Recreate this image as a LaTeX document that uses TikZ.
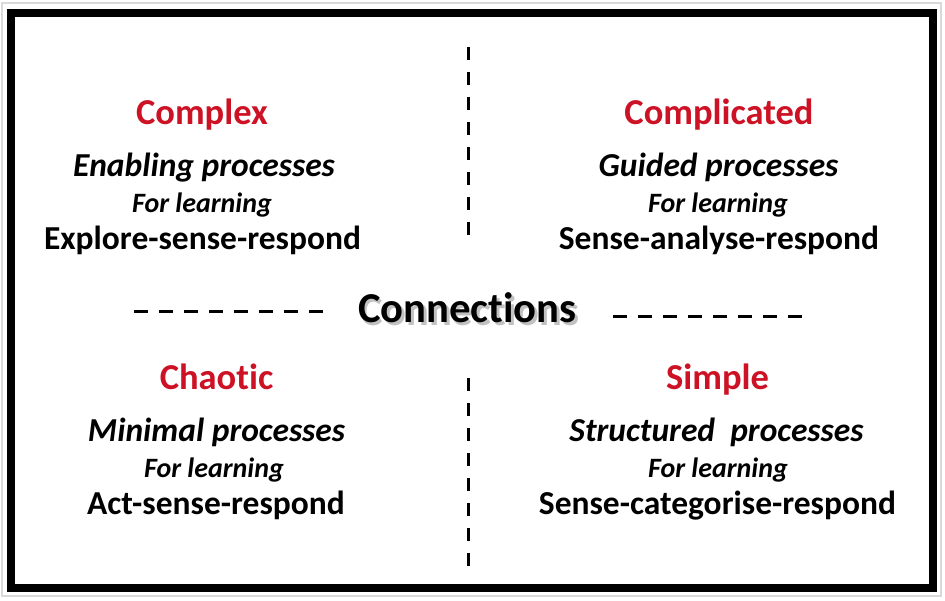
\documentclass[tikz,border=0pt]{standalone}
\usepackage{fontspec}
\setmainfont{Carlito}[Ligatures=NoCommon]
\definecolor{titlered}{RGB}{204,18,36}
\begin{document}
\begin{tikzpicture}[x=1pt,y=-1pt,
  title/.style={anchor=base,font=\bfseries\fontsize{36.5}{42}\selectfont,text=titlered,inner sep=0pt},
  proc/.style={anchor=base,font=\bfseries\itshape\fontsize{33.5}{38}\selectfont,inner sep=0pt},
  forl/.style={anchor=base,font=\bfseries\itshape\fontsize{28}{32}\selectfont,inner sep=0pt},
  resp/.style={anchor=base,font=\bfseries\fontsize{33.5}{38}\selectfont,inner sep=0pt},
  conn/.style={anchor=base,font=\bfseries\fontsize{42.6}{48}\selectfont,inner sep=0pt},
  vsep/.style={line width=3pt,dash pattern=on 13pt off 12pt},
  hsep/.style={line width=3pt,dash pattern=on 14pt off 11pt}]
\useasboundingbox (0,0) rectangle (945,601);
\fill[white] (0,0) rectangle (945,601);
\draw[black!15,line width=2pt] (2,3) rectangle (941,596);
\draw[black,line width=8pt] (11,13.5) rectangle (933,587.5);

% top-left
\node[title] (cx) at (202,125) {Complex};
\node[proc] (cxp) at (204,177) {Enabling processes};
\node[forl] (cxf) at (202,213) {For learning};
\node[resp] (cxr) at (202.5,250) {Explore-sense-respond};
% top-right
\node[title] (cd) at (719,125) {Complicated};
\node[proc] (cdp) at (718.5,177) {Guided processes};
\node[forl] (cdf) at (718,213) {For learning};
\node[resp] (cdr) at (719,250) {Sense-analyse-respond};
% bottom-left
\node[title] (ch) at (216.5,389) {Chaotic};
\node[proc] (chp) at (216.5,441) {Minimal processes};
\node[forl] (chf) at (214,477) {For learning};
\node[resp] (chr) at (216,514) {Act-sense-respond};
% bottom-right
\node[title] (sp) at (717.5,389) {Simple};
\node[proc] (spp) at (716.5,441) {Structured\ \ processes};
\node[forl] (spf) at (718,477) {For learning};
\node[resp] (spr) at (717.5,514) {Sense-categorise-respond};

% centre
\node[conn,text=black!40,opacity=0.6] at (470,325.5) {Connections};
\node[conn] (cn) at (467.5,323) {Connections};

\coordinate (vt1) at (468,47);
\coordinate (vt2) at (468,235);
\coordinate (vb1) at (468,378);
\coordinate (vb2) at (468,566);
\coordinate (hl1) at (134,311.5);
\coordinate (hl2) at (324,311.5);
\coordinate (hr1) at (613,316.5);
\coordinate (hr2) at (803,316.5);
\draw[vsep] (vt1) -- (vt2);
\draw[vsep] (vb1) -- (vb2);
\draw[hsep] (hl1) -- (hl2);
\draw[hsep] (hr1) -- (hr2);
\end{tikzpicture}
\end{document}
